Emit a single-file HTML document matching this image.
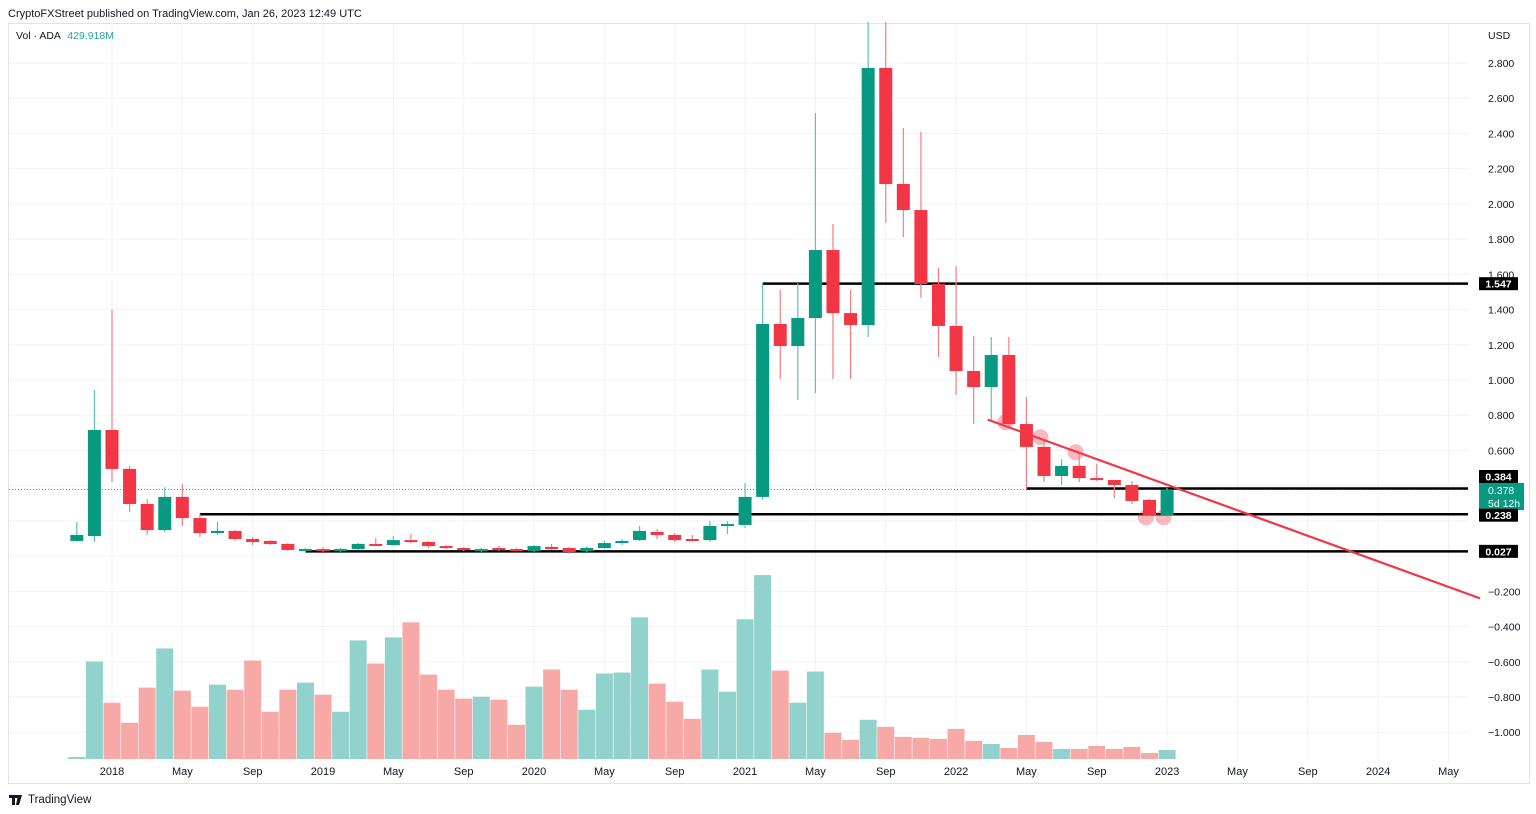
<!DOCTYPE html>
<html><head><meta charset="utf-8"><style>
body{margin:0;background:#fff;font-family:"Liberation Sans","DejaVu Sans",sans-serif;}
svg{display:block}
</style></head><body>
<svg id="c" width="1536" height="814" xmlns="http://www.w3.org/2000/svg">
<text x="8" y="17" font-size="11" fill="#131722">CryptoFXStreet published on TradingView.com, Jan 26, 2023 12:49 UTC</text>
<rect x="8.5" y="23.5" width="1521" height="760" fill="none" stroke="#e0e3eb"/>
<g id="grid"></g>
<g id="vol"></g>
<g id="lines"></g>
<g id="marks"></g>
<g id="candles"></g>
<g id="axis"></g>
<text x="16" y="39" font-size="10.5" fill="#131722">Vol · ADA <tspan fill="#26a69a" dx="4">429.918M</tspan></text>
<g><path d="M9 795h9v3h-3v7h-3v-7h-3zM18 795h4l-3 10h-3z" fill="#131722"/><text x="28" y="803" font-size="11.5" fill="#131722">TradingView</text></g>
</svg>
<script>
const NS="http://www.w3.org/2000/svg";
const startIndex=-2; // Nov 2017 relative to Jan 2018
const opens=[0.086,0.114,0.716,0.495,0.296,0.148,0.336,0.216,0.131,0.143,0.097,0.086,0.069,0.035,0.040,0.029,0.040,0.069,0.063,0.091,0.080,0.057,0.046,0.029,0.046,0.040,0.029,0.052,0.046,0.029,0.046,0.074,0.091,0.137,0.120,0.097,0.091,0.171,0.177,0.336,1.318,1.193,1.352,1.738,1.380,1.312,2.772,2.113,1.965,1.545,1.307,1.051,0.960,1.142,0.750,0.620,0.455,0.512,0.443,0.432,0.404,0.319,0.233];
const highs=[0.194,0.943,1.398,0.512,0.324,0.392,0.409,0.239,0.194,0.148,0.108,0.091,0.074,0.046,0.052,0.046,0.074,0.103,0.114,0.125,0.086,0.063,0.052,0.046,0.057,0.046,0.063,0.069,0.052,0.057,0.086,0.097,0.171,0.154,0.131,0.120,0.199,0.199,0.415,1.551,1.511,1.551,2.516,1.886,1.511,3.033,3.033,2.431,2.408,1.636,1.647,1.250,1.244,1.244,0.903,0.659,0.551,0.580,0.523,0.432,0.426,0.324,0.387];
const lows=[0.080,0.080,0.421,0.250,0.120,0.137,0.171,0.108,0.120,0.086,0.063,0.063,0.029,0.023,0.023,0.023,0.035,0.057,0.057,0.074,0.046,0.040,0.029,0.023,0.029,0.029,0.023,0.035,0.012,0.023,0.040,0.063,0.086,0.097,0.080,0.086,0.080,0.125,0.160,0.319,1.006,0.886,0.926,1.006,1.006,1.244,1.892,1.812,1.466,1.131,0.915,0.750,0.773,0.733,0.381,0.421,0.404,0.421,0.426,0.330,0.296,0.228,0.233];
const closes=[0.120,0.716,0.495,0.296,0.148,0.336,0.216,0.131,0.143,0.097,0.080,0.069,0.035,0.040,0.029,0.040,0.069,0.063,0.091,0.080,0.057,0.046,0.035,0.040,0.035,0.029,0.057,0.040,0.023,0.046,0.074,0.086,0.143,0.120,0.091,0.091,0.171,0.182,0.336,1.318,1.193,1.352,1.738,1.380,1.312,2.772,2.113,1.965,1.545,1.307,1.051,0.960,1.142,0.750,0.620,0.455,0.512,0.443,0.432,0.404,0.313,0.233,0.375];
const volumes=[0.2,9.7,5.6,3.6,7.1,11.0,6.8,5.2,7.4,6.9,9.8,4.7,6.9,7.6,6.4,4.7,11.8,9.5,12.1,13.6,8.4,6.9,6.0,6.2,5.9,3.4,7.2,8.9,6.9,4.9,8.5,8.6,14.1,7.5,5.7,4.0,8.9,6.7,13.9,18.3,8.8,5.6,8.7,2.6,1.9,3.9,3.2,2.2,2.1,2.0,3.0,1.8,1.5,1.1,2.4,1.7,1.0,1.0,1.3,1.0,1.2,0.6,0.9];
const priceTicks=[2.8,2.6,2.4,2.2,2.0,1.8,1.4,1.2,1.0,0.8,0.6,-0.2,-0.4,-0.6,-0.8,-1.0];
const gridPrices=[2.8,2.6,2.4,2.2,2.0,1.8,1.6,1.4,1.2,1.0,0.8,0.6,0.4,0.2,0.0,-0.2,-0.4,-0.6,-0.8,-1.0];
const timeLabels=["2018","May","Sep","2019","May","Sep","2020","May","Sep","2021","May","Sep","2022","May","Sep","2023","May","Sep","2024","May"];
const levels=[1.547,0.384,0.238,0.027];
const levelStart=[37,52,5,11];
const tagOffsets=[0,-12,1,0];
const trendStart=[49.8,0.775], trendEnd=[77.8,-0.24];
const markers=[[50.8,0.76],[52.8,0.675],[54.8,0.59],[58.8,0.22],[59.8,0.22]];
const y=p=>380-(p-1)*176.1;
const x=m=>112+m*17.585;
const vy=v=>759-v*10.05;
function mk(t,a,name,parent){const e=document.createElementNS(NS,t);for(const k in a)e.setAttribute(k,a[k]);


document.getElementById(parent).appendChild(e);return e;}
gridPrices.forEach(p=>mk('line',{x1:9,x2:1468,y1:y(p),y2:y(p),stroke:'#f0f3fa'},'h-grid','grid'));
timeLabels.forEach((t,i)=>{const xx=x(i*4);mk('line',{x1:xx,x2:xx,y1:24,y2:762,stroke:'#f0f3fa'},'v-grid','grid');
const tx=mk('text',{x:xx,y:775,'font-size':11,'text-anchor':'middle',fill:'#131722'},'time-label','axis');tx.textContent=t;});
volumes.forEach((v,i)=>{const m=startIndex+i;const up=closes[i]>=opens[i];
mk('rect',{x:x(m)-8.5,y:vy(v),width:17,height:759-vy(v),fill:up?'#92d2cc':'#f7a9a7'},'volume-bar','vol');});
markers.forEach(p=>mk('circle',{cx:x(p[0]),cy:y(p[1]),r:8,fill:'rgba(242,54,69,0.35)'},'touch-marker','marks'));
opens.forEach((o,i)=>{const m=startIndex+i,c=closes[i],up=c>=o,col=up?'#089981':'#f23645';const xx=x(m);
mk('line',{x1:xx,x2:xx,y1:y(highs[i]),y2:y(lows[i]),stroke:up?'#5fc1b3':'#f77c80','stroke-width':1.2},'candle-wick','candles');
const t=Math.min(y(o),y(c)),h=Math.max(2,Math.abs(y(o)-y(c)));
mk('rect',{x:xx-6.5,y:t,width:13,height:h,fill:col},'candle-body','candles');});
mk('line',{x1:9,x2:1468,y1:y(0.378),y2:y(0.378),stroke:'#26a69a','stroke-dasharray':'1 2'},'last-price-line','lines');
levels.forEach((l,i)=>{mk('line',{x1:x(levelStart[i]),x2:1468,y1:y(l),y2:y(l),stroke:'#000','stroke-width':2.5},'support-line','lines');});
mk('line',{x1:x(trendStart[0]),y1:y(trendStart[1]),x2:x(trendEnd[0]),y2:y(trendEnd[1]),stroke:'#f23645','stroke-width':2.2},'trend-line','candles');
let u=mk('text',{x:1488,y:39,'font-size':10.5,fill:'#131722'},'currency-label','axis');u.textContent='USD';
priceTicks.forEach(p=>{const t=mk('text',{x:1488,y:y(p)+4,'font-size':10.5,fill:'#131722'},'price-tick','axis');t.textContent=p.toFixed(3).replace('-','−');});
let t16=mk('text',{x:1488,y:y(1.6)+4,'font-size':10.5,fill:'#131722'},'price-tick','axis');t16.textContent='1.600';
mk('rect',{x:1479,y:483,width:45,height:27,fill:'#089981'},'last-price-tag','axis');
let a=mk('text',{x:1488,y:494,'font-size':10.5,fill:'#fff'},'last-price-text','axis');a.textContent='0.378';
let b=mk('text',{x:1488,y:507,'font-size':10.5,fill:'#fff'},'countdown-text','axis');b.textContent='5d 12h';
levels.forEach((l,i)=>{const yy=y(l)+tagOffsets[i];mk('rect',{x:1479,y:yy-6.5,width:39,height:13,fill:'#000'},'level-tag','axis');
const t=mk('text',{x:1498.5,y:yy+4,'font-size':10.5,fill:'#fff','text-anchor':'middle','font-weight':'bold'},'level-tag-text','axis');t.textContent=l.toFixed(3);});
</script>
</body></html>
